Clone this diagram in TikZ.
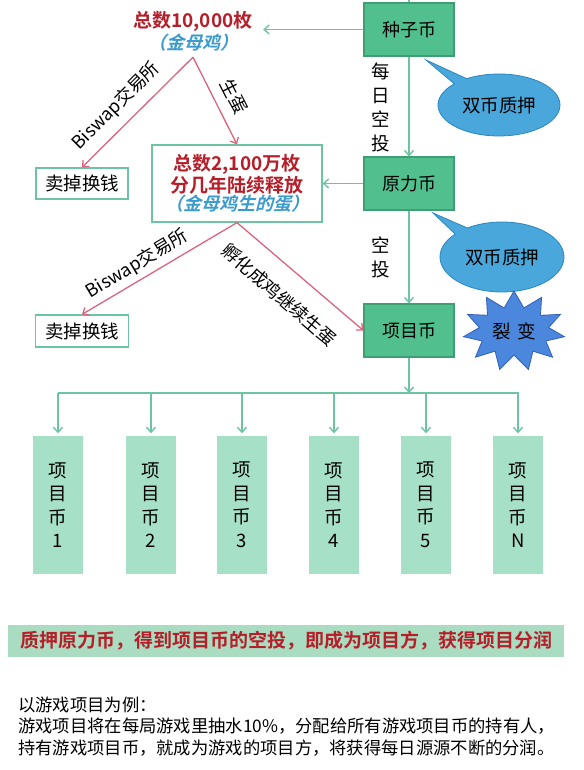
\documentclass[tikz,border=0pt]{standalone}
\usepackage{fontspec}
\setmainfont{Noto Sans CJK SC}[BoldFont={Noto Sans CJK SC Bold},ItalicFont={Noto Sans CJK SC},ItalicFeatures={FakeSlant=0.25},BoldItalicFont={Noto Sans CJK SC Bold},BoldItalicFeatures={FakeSlant=0.25}]
\usetikzlibrary{arrows.meta,shapes.callouts,shapes.symbols}
\definecolor{gfill}{HTML}{52C08E}
\definecolor{gborder}{HTML}{3F9E72}
\definecolor{garr}{HTML}{6CC4A2}
\definecolor{colfill}{HTML}{A6E0C6}
\definecolor{pinkl}{HTML}{D9657E}
\definecolor{redt}{HTML}{B51F2A}
\definecolor{bluet}{HTML}{3B9BCC}
\definecolor{bubfill}{HTML}{4AA7DC}
\definecolor{bubdraw}{HTML}{2A86C0}
\definecolor{starfill}{HTML}{4B87DC}
\definecolor{stardraw}{HTML}{3060B8}
\definecolor{bannerfill}{HTML}{A9DCC0}
\tikzset{
  coinbox/.style={draw=gborder, fill=gfill, line width=1.2pt, minimum width=90pt, minimum height=53pt, inner sep=0pt, font=\fontsize{18}{22}\selectfont},
  whitebox/.style={draw=garr, fill=white, line width=1.2pt, inner sep=0pt},
  colbox/.style={fill=colfill, minimum width=49.5pt, minimum height=138pt, inner sep=0pt, align=center, font=\fontsize{18.5}{23.5}\selectfont},
  garrow/.style={draw=garr, line width=1.4pt, -{Straight Barb[length=5pt,width=9pt]}},
  gline/.style={draw=garr, line width=1.4pt},
  parrow/.style={draw=pinkl, line width=1.3pt, -{Straight Barb[length=5pt,width=9pt]}},
  bubble/.style={ellipse callout, fill=bubfill, draw=bubdraw, line width=0.8pt, inner sep=0pt, font=\fontsize{18.5}{22}\selectfont},
  lbl/.style={font=\fontsize{18}{22}\selectfont, inner sep=0pt},
  vlbl/.style={font=\fontsize{18.5}{24}\selectfont, inner sep=0pt, align=center}
}
\begin{document}
\begin{tikzpicture}[x=1pt,y=-1pt]
\useasboundingbox (0,0) rectangle (583,770);
\fill[white] (0,0) rectangle (583,770);

% coin boxes
\node[coinbox] (zhongzi) at (409,29.5) {种子币};
\node[coinbox] (yuanli) at (409,183.5) {原力币};
\node[coinbox] (xiangmu) at (409,330.5) {项目币};
\coordinate (topin) at (409,0);
\draw[gline] (topin) -- (zhongzi.north);

% golden hen
\node[minimum width=140pt, minimum height=51pt, inner sep=0pt, align=center] (hen) at (193,31.5)
  {{\fontsize{19}{23}\selectfont\bfseries\color{redt}总数10,000枚}\\[1pt]
   {\fontsize{18}{22}\selectfont\bfseries\itshape\color{bluet}（金母鸡）}};
\draw[garrow] (zhongzi.west) -- (zhongzi.west -| hen.east);

% big box
\node[whitebox, minimum width=170pt, minimum height=77pt, align=center] (egg) at (237,183.5)
  {{\fontsize{19}{22}\selectfont\bfseries\color{redt}总数2,100万枚}\\[0pt]
   {\fontsize{19}{22}\selectfont\bfseries\color{redt}分几年陆续释放}\\[0pt]
   {\fontsize{18}{22}\selectfont\bfseries\itshape\color{bluet}（金母鸡生的蛋）}};
\draw[garrow] (yuanli.west) -- (egg.east);

% sell boxes
\node[whitebox, minimum width=92pt, minimum height=31pt, font=\fontsize{18.5}{22}\selectfont] (sell1) at (82,183.5) {卖掉换钱};
\node[whitebox, minimum width=93pt, minimum height=32pt, font=\fontsize{18.5}{22}\selectfont] (sell2) at (82,331) {卖掉换钱};

% pink connectors
\draw[parrow] (hen.south) -- (sell1.north);
\draw[parrow] (hen.south) -- (egg.north);
\draw[parrow] (egg.south) -- (sell2.north);
\draw[parrow] (egg.south) -- (xiangmu.west);
\node[lbl, rotate=45] (l1) at (116,106) {Biswap交易所};
\node[lbl, rotate=-63] (l2) at (234,96) {生蛋};
\node[lbl, rotate=31] (l3) at (137,264) {Biswap交易所};
\node[lbl, rotate=-41] (l4) at (279,295) {孵化成鸡继续生蛋};

% vertical green flows
\draw[garrow] (zhongzi.south) -- (yuanli.north);
\draw[garrow] (yuanli.south) -- (xiangmu.north);
\node[vlbl] (daily) at (381,107) {每\\日\\空\\投};
\node[vlbl] (air) at (381,257) {空\\投};

% bubbles
\node[bubble, minimum width=122pt, minimum height=62pt, callout absolute pointer={(426,60)}] (bub1) at (499,105) {双币质押};
\node[bubble, minimum width=124pt, minimum height=70pt, callout absolute pointer={(433,213)}] (bub2) at (502,257) {双币质押};

% starburst
\node[starburst, starburst points=11, starburst point height=16pt, random starburst=0, fill=starfill, draw=stardraw, line width=0.8pt, minimum width=102pt, minimum height=80pt, inner sep=0pt, font=\fontsize{18.5}{22}\selectfont] (star) at (514,331) {裂\,\,变};

% bus
\coordinate (busc) at (409,393);
\coordinate (busl) at (58,393);
\coordinate (busr) at (519,393);
\draw[garrow] (xiangmu.south) -- (busc);
\draw[gline] (busl) -- (busr);

\node[colbox] (c1) at (58,505) {项\\目\\币\\1};
\node[colbox] (c2) at (151,505) {项\\目\\币\\2};
\node[colbox] (c3) at (242,505) {项\\目\\币\\3};
\node[colbox] (c4) at (334,505) {项\\目\\币\\4};
\node[colbox] (c5) at (426,505) {项\\目\\币\\5};
\node[colbox] (c6) at (518,505) {项\\目\\币\\N};
\foreach \c in {c1,c2,c3,c4,c5,c6}
  \draw[garrow, shorten >=2.5pt] (busl -| \c.north) -- (\c.north);

% banner
\node[fill=bannerfill, minimum width=556pt, minimum height=32pt, inner sep=0pt, font=\fontsize{19}{22}\selectfont\bfseries, text=redt] (banner) at (286,641)
  {质押原力币，得到项目币的空投，即成为项目方，获得项目分润};

% bottom text
\node[anchor=north west, align=left, inner sep=0pt, font=\fontsize{17.3}{21.2}\selectfont] (note) at (18,697)
  {以游戏项目为例：\\游戏项目将在每局游戏里抽水10\%，分配给所有游戏项目币的持有人，\\持有游戏项目币，就成为游戏的项目方，将获得每日源源不断的分润。};
\end{tikzpicture}
\end{document}
